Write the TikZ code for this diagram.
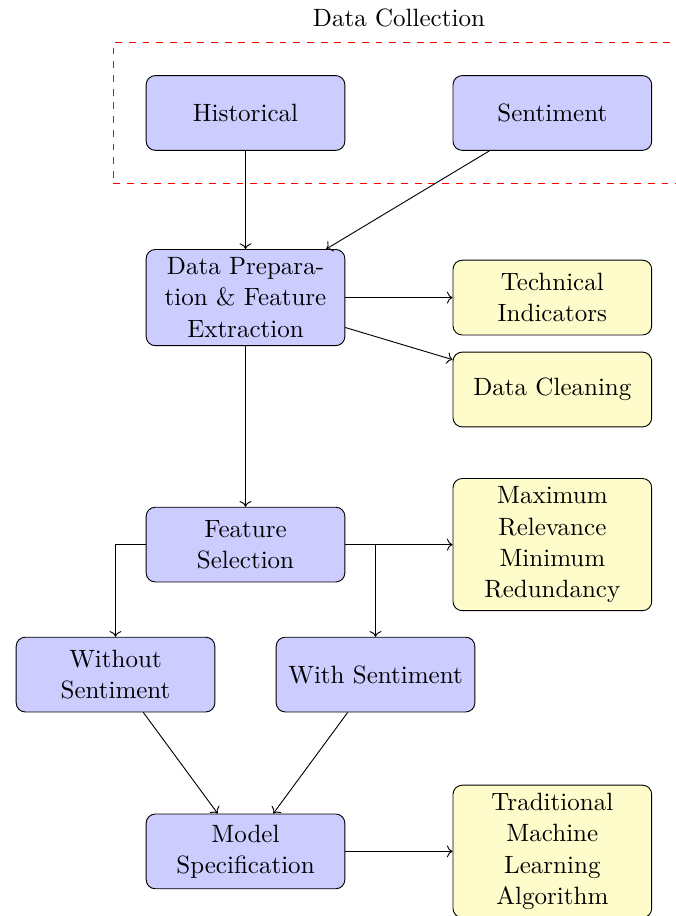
\documentclass[tikz,border=0pt,11pt]{standalone}
\usepackage{amsmath}
\usetikzlibrary{shapes.geometric, arrows.meta, positioning, fit}

\begin{document}
\begin{tikzpicture}[
process/.style={rectangle, rounded corners, minimum height=1.15cm, minimum width=3.05cm, text width=2.8cm, text centered, draw=black, fill=blue!20},
method/.style={process, fill=yellow!20},
arrow/.style={->},
group/.style={draw=red, dashed, inner sep=0.5cm}
]
\useasboundingbox (-3.777,1.738) rectangle (6.608,-12.354);
% Data sources inside the dashed group
\node[process] (historical) at (0,0) {Historical};
\node[process, right=1.65cm of historical] (sentiment) {Sentiment};
\node[group, fit=(historical)(sentiment)] (collection) {};
\node[above=0.1cm of collection] (collection-title) {Data Collection};
% Main pipeline steps
\node[process] (preparation) at (0,-2.84) {Data Preparation \& Feature Extraction};
\node[process] (selection) at (0,-6.64) {Feature Selection};
\node[process] (without) at (-2,-8.64) {Without Sentiment};
\node[process] (with) at (2,-8.64) {With Sentiment};
\node[process] (model) at (0,-11.36) {Model\\ Specification};
% Methods on the right
\node[method, right=1.65cm of preparation] (indicators) {Technical Indicators};
\node[method, below=0.25cm of indicators] (cleaning) {Data Cleaning};
\node[method, right=1.65cm of selection] (mrmr) {Maximum Relevance Minimum Redundancy};
\node[method, right=1.65cm of model] (traditional) {Traditional Machine Learning Algorithm};
% Connectors
\draw[arrow] (historical) -- (preparation);
\draw[arrow] (sentiment) -- (preparation);
\draw[arrow] (preparation) -- (indicators);
\draw[arrow] (preparation) -- (cleaning);
\draw[arrow] (preparation) -- (selection);
\draw[arrow] (selection) -- (mrmr);
\draw[arrow] (selection) -| (without);
\draw[arrow] (selection) -| (with);
\draw[arrow] (without) -- (model);
\draw[arrow] (with) -- (model);
\draw[arrow] (model) -- (traditional);
\end{tikzpicture}
\end{document}
